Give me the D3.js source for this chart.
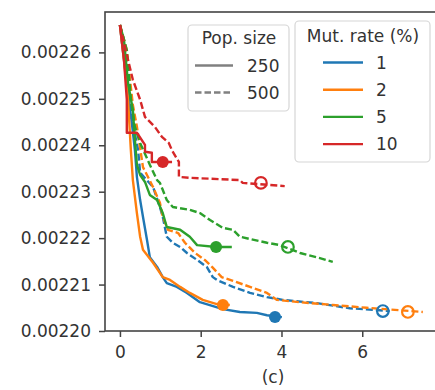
<!DOCTYPE html>
<html>
<head>
<meta charset="utf-8">
<script src="https://cdn.jsdelivr.net/npm/d3@7"></script>
<style>
  body { margin: 0; background: #fff; }
  svg { display: block; font-family: "DejaVu Sans", sans-serif; }
</style>
</head>
<body>
<svg id="chart" width="435" height="390"></svg>
<script>
// fitness over time, per mutation rate (%) and population size
const mutRates = [1, 2, 5, 10];
const popSizes = [250, 500];
const colours = ["#1f77b4", "#ff7f0e", "#2ca02c", "#d62728"];

const time_m1_p250 = [0, 0.10, 0.22, 0.30, 0.37, 0.42, 0.50, 0.57, 0.67, 0.74, 0.92, 1.06, 1.16, 1.41, 1.66, 1.98, 2.55, 2.97, 3.39, 3.64, 4.01];
const fit_m1_p250 = [0.0022659, 0.0022584, 0.0022498, 0.0022444, 0.0022390, 0.0022332, 0.0022282, 0.0022246, 0.0022196, 0.0022159, 0.0022138, 0.0022116, 0.0022103, 0.0022095, 0.0022082, 0.0022062, 0.0022047, 0.0022041, 0.0022039, 0.0022034, 0.0022030];

const time_m1_p500 = [0, 0.15, 0.25, 0.35, 0.45, 0.50, 0.82, 0.99, 1.06, 1.16, 1.31, 1.49, 1.66, 1.91, 2.15, 2.30, 2.40, 2.80, 3.22, 3.64, 4.03, 4.88, 5.69, 6.68];
const fit_m1_p500 = [0.0022659, 0.0022584, 0.0022498, 0.0022433, 0.0022390, 0.0022341, 0.0022310, 0.0022267, 0.0022246, 0.0022203, 0.0022190, 0.0022181, 0.0022168, 0.0022153, 0.0022138, 0.0022116, 0.0022110, 0.0022095, 0.0022082, 0.0022073, 0.0022067, 0.0022060, 0.0022049, 0.0022043];

const time_m2_p250 = [0, 0.10, 0.20, 0.27, 0.32, 0.42, 0.50, 0.57, 0.82, 1.06, 1.24, 1.49, 1.73, 2.05, 2.40, 2.72];
const fit_m2_p250 = [0.0022659, 0.0022584, 0.0022498, 0.0022390, 0.0022325, 0.0022254, 0.0022203, 0.0022175, 0.0022147, 0.0022116, 0.0022110, 0.0022095, 0.0022082, 0.0022067, 0.0022058, 0.0022056];

const time_m2_p500 = [0, 0.17, 0.25, 0.32, 0.42, 0.57, 0.82, 0.99, 1.06, 1.19, 1.44, 1.61, 1.86, 2.10, 2.28, 2.52, 2.80, 3.22, 3.64, 3.89, 4.46, 5.27, 6.11, 7.50];
const fit_m2_p500 = [0.0022659, 0.0022605, 0.0022541, 0.0022487, 0.0022440, 0.0022353, 0.0022310, 0.0022276, 0.0022246, 0.0022218, 0.0022211, 0.0022190, 0.0022168, 0.0022153, 0.0022138, 0.0022116, 0.0022108, 0.0022095, 0.0022082, 0.0022067, 0.0022062, 0.0022056, 0.0022050, 0.0022041];

const time_m5_p250 = [0, 0.10, 0.20, 0.32, 0.37, 0.42, 0.50, 0.62, 0.74, 0.92, 1.06, 1.16, 1.49, 1.73, 1.91, 2.38, 2.77];
const fit_m5_p250 = [0.0022659, 0.0022627, 0.0022534, 0.0022476, 0.0022412, 0.0022358, 0.0022336, 0.0022321, 0.0022293, 0.0022282, 0.0022254, 0.0022224, 0.0022218, 0.0022203, 0.0022185, 0.0022181, 0.0022181];

const time_m5_p500 = [0, 0.17, 0.27, 0.37, 0.50, 0.74, 0.92, 0.99, 1.16, 1.31, 1.73, 1.98, 2.23, 2.55, 2.80, 2.97, 3.64, 3.96, 4.46, 4.95, 5.27];
const fit_m5_p500 = [0.0022659, 0.0022605, 0.0022498, 0.0022440, 0.0022405, 0.0022358, 0.0022325, 0.0022319, 0.0022282, 0.0022267, 0.0022261, 0.0022254, 0.0022239, 0.0022222, 0.0022218, 0.0022203, 0.0022190, 0.0022185, 0.0022168, 0.0022157, 0.0022149];

const time_m10_p250 = [0, 0.10, 0.17, 0.17, 0.42, 0.62, 0.62, 0.79, 0.79, 1.06, 1.29];
const fit_m10_p250 = [0.0022659, 0.0022584, 0.0022498, 0.0022427, 0.0022427, 0.0022401, 0.0022386, 0.0022384, 0.0022364, 0.0022364, 0.0022364];

const time_m10_p500 = [0, 0.17, 0.32, 0.50, 0.62, 0.87, 1.04, 1.21, 1.29, 1.41, 1.46, 1.46, 1.71, 2.97, 3.04, 4.08];
const fit_m10_p500 = [0.0022659, 0.0022595, 0.0022541, 0.0022498, 0.0022461, 0.0022439, 0.0022418, 0.0022405, 0.0022389, 0.0022371, 0.0022364, 0.0022332, 0.0022330, 0.0022325, 0.0022319, 0.0022312];

// end markers (filled = 250, open = 500)
const marker250Time = [3.84, 2.55, 2.38, 1.06];
const marker250Fit = [0.0022030, 0.0022056, 0.0022181, 0.0022364];
const marker500Time = [6.51, 7.13, 4.16, 3.49];
const marker500Fit = [0.0022043, 0.0022041, 0.0022181, 0.0022319];

const xTicks = [0, 2, 4, 6];
const yTicks = [0.00220, 0.00221, 0.00222, 0.00223, 0.00224, 0.00225, 0.00226];
const panelLabel = "(c)";

const runs = [
  { rate: 1, pop: 250, t: time_m1_p250, f: fit_m1_p250 },
  { rate: 1, pop: 500, t: time_m1_p500, f: fit_m1_p500 },
  { rate: 2, pop: 250, t: time_m2_p250, f: fit_m2_p250 },
  { rate: 2, pop: 500, t: time_m2_p500, f: fit_m2_p500 },
  { rate: 5, pop: 250, t: time_m5_p250, f: fit_m5_p250 },
  { rate: 5, pop: 500, t: time_m5_p500, f: fit_m5_p500 },
  { rate: 10, pop: 250, t: time_m10_p250, f: fit_m10_p250 },
  { rate: 10, pop: 500, t: time_m10_p500, f: fit_m10_p500 }
];

const fontSize = "17px";
const textCol = "#333";
const lw = 2.4;
const dash = "7,3";

const svg = d3.select("#chart");
const margin = { left: 105, right: 441, top: 12, bottom: 331 };

const x = d3.scaleLinear().domain([-0.37, 7.95]).range([margin.left, margin.right]);
const y = d3.scaleLinear().domain([0.00220, 0.0022687]).range([margin.bottom, margin.top]);
const colour = d3.scaleOrdinal().domain(mutRates).range(colours);

const line = d3.line()
  .x(d => x(d[0]))
  .y(d => y(d[1]));

// data lines
const lines = svg.append("g").attr("class", "lines");
runs.forEach(r => {
  const pts = r.t.map((t, i) => [t, r.f[i]]);
  lines.append("path")
    .attr("d", line(pts))
    .attr("fill", "none")
    .attr("stroke", colour(r.rate))
    .attr("stroke-width", lw)
    .attr("stroke-linejoin", "round")
    .attr("stroke-dasharray", r.pop === 500 ? dash : null);
});

// end markers
const marks = svg.append("g").attr("class", "markers");
mutRates.forEach((m, i) => {
  marks.append("circle")
    .attr("cx", x(marker250Time[i]))
    .attr("cy", y(marker250Fit[i]))
    .attr("r", 6)
    .attr("fill", colour(m));
  marks.append("circle")
    .attr("cx", x(marker500Time[i]))
    .attr("cy", y(marker500Fit[i]))
    .attr("r", 5.8)
    .attr("fill", "none")
    .attr("stroke", colour(m))
    .attr("stroke-width", 2.2);
});

// axes
const yAxis = d3.axisLeft(y)
  .tickValues(yTicks)
  .tickFormat(d3.format(".5f"))
  .tickSize(6)
  .tickSizeOuter(0)
  .tickPadding(8);

const xAxis = d3.axisBottom(x)
  .tickValues(xTicks)
  .tickFormat(d3.format("d"))
  .tickSize(6)
  .tickSizeOuter(0)
  .tickPadding(9);

const gy = svg.append("g").attr("transform", `translate(${margin.left},0)`).call(yAxis);
const gx = svg.append("g").attr("transform", `translate(0,${margin.bottom})`).call(xAxis);

[gx, gy].forEach(g => {
  g.select(".domain").remove();
  g.selectAll(".tick line").attr("stroke", "#444").attr("stroke-width", 1.5);
  g.selectAll(".tick text")
    .attr("fill", textCol)
    .style("font-size", fontSize)
    .style("font-family", "DejaVu Sans");
});

// spines
svg.append("rect")
  .attr("x", margin.left)
  .attr("y", margin.top)
  .attr("width", margin.right - margin.left)
  .attr("height", margin.bottom - margin.top)
  .attr("fill", "none")
  .attr("stroke", "#444")
  .attr("stroke-width", 1.6);

// legend: population size
const leg1 = svg.append("g").attr("class", "legend-pop");
leg1.append("rect")
  .attr("x", 188).attr("y", 25).attr("width", 101).attr("height", 86).attr("rx", 4)
  .attr("fill", "#fff").attr("fill-opacity", 0.85)
  .attr("stroke", "#d6d6d6").attr("stroke-width", 1.2);
leg1.append("text")
  .attr("x", 239).attr("y", 44)
  .attr("text-anchor", "middle")
  .attr("fill", textCol)
  .style("font-size", fontSize)
  .text("Pop. size");
popSizes.forEach((p, i) => {
  const ly = 65.5 + i * 27;
  leg1.append("line")
    .attr("x1", 195).attr("x2", 233).attr("y1", ly).attr("y2", ly)
    .attr("stroke", "#808080").attr("stroke-width", lw)
    .attr("stroke-dasharray", p === 500 ? "6.5,3" : null);
  leg1.append("text")
    .attr("x", 247).attr("y", ly + 6.3)
    .attr("fill", textCol)
    .style("font-size", fontSize)
    .text(p);
});

// legend: mutation rate
const leg2 = svg.append("g").attr("class", "legend-mut");
leg2.append("rect")
  .attr("x", 295).attr("y", 21).attr("width", 135).attr("height", 141).attr("rx", 4)
  .attr("fill", "#fff").attr("fill-opacity", 0.85)
  .attr("stroke", "#d6d6d6").attr("stroke-width", 1.2);
leg2.append("text")
  .attr("x", 363).attr("y", 42)
  .attr("text-anchor", "middle")
  .attr("fill", textCol)
  .style("font-size", fontSize)
  .text("Mut. rate (%)");
mutRates.forEach((m, i) => {
  const ly = 62.5 + i * 27.2;
  leg2.append("line")
    .attr("x1", 323).attr("x2", 363).attr("y1", ly).attr("y2", ly)
    .attr("stroke", colour(m)).attr("stroke-width", lw);
  leg2.append("text")
    .attr("x", 376).attr("y", ly + 6.3)
    .attr("fill", textCol)
    .style("font-size", fontSize)
    .text(m);
});

// panel label
svg.append("text")
  .attr("x", (margin.left + margin.right) / 2)
  .attr("y", 383)
  .attr("text-anchor", "middle")
  .attr("fill", textCol)
  .style("font-size", fontSize)
  .text(panelLabel);
</script>
</body>
</html>
